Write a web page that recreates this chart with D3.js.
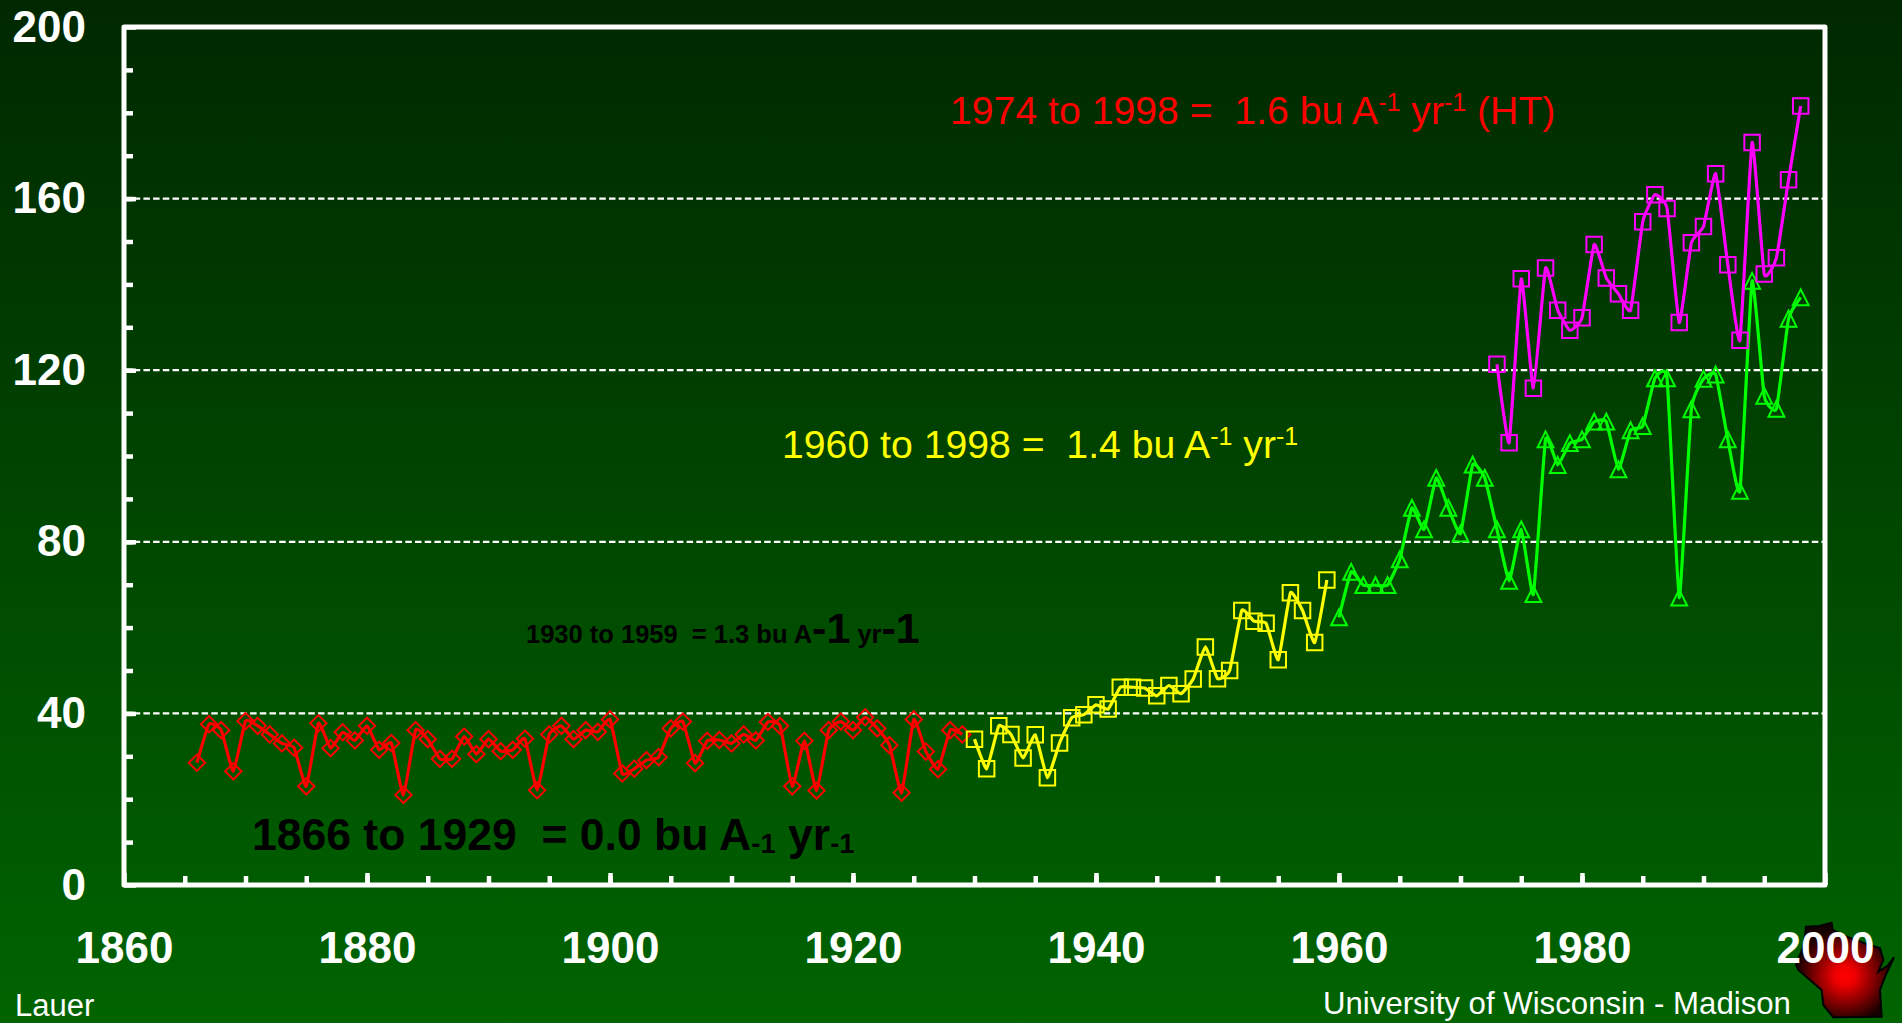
<!DOCTYPE html>
<html>
<head>
<meta charset="utf-8">
<title>Wisconsin corn yield</title>
<script src="https://cdn.jsdelivr.net/npm/d3@7"></script>
<style>
	html, body { margin: 0; padding: 0; background: #006400; overflow: hidden; }
	svg { display: block; }
	text { font-family: "Liberation Sans", Arial, sans-serif; white-space: pre; }
</style>
</head>
<body>
<script>
// years and yields (bu/A)
var redYears = d3.range(1866, 1930);
var redValues = [28.5, 37.5, 36.1, 26.5, 38.2, 37.1, 35.1, 33.0, 32.0, 23.0,
	37.7, 31.9, 35.6, 33.7, 37.1, 31.5, 33.1, 21.0, 36.1, 34.0,
	29.4, 29.4, 34.6, 30.5, 34.0, 31.2, 31.5, 34.1, 22.1, 35.1,
	37.1, 34.0, 36.1, 35.7, 38.6, 26.0, 27.1, 29.1, 29.8, 36.5,
	38.1, 28.4, 33.6, 33.8, 33.0, 35.1, 33.7, 38.0, 37.1, 23.0,
	33.6, 22.0, 36.1, 38.1, 36.1, 39.1, 36.5, 32.6, 21.5, 38.6,
	31.1, 27.0, 36.1, 35.1];

var yellowYears = d3.range(1930, 1960);
var yellowValues = [34.0, 27.1, 37.1, 35.1, 29.6, 35.0, 25.0, 33.1, 39.0, 39.7,
	42.0, 41.0, 46.1, 46.1, 45.9, 44.1, 46.5, 44.6, 48.0, 55.5,
	48.1, 50.0, 64.0, 61.5, 61.0, 52.5, 68.1, 64.0, 56.5, 71.1];

var greenYears = d3.range(1960, 1999);
var greenValues = [62.4, 73.0, 69.9, 69.9, 69.9, 75.9, 87.9, 82.9, 94.9, 87.9,
	81.9, 98.0, 94.9, 82.9, 70.9, 82.9, 67.8, 103.9, 97.9, 103.0,
	103.9, 108.0, 108.0, 96.9, 106.0, 107.0, 118.1, 118.1, 67.0, 110.9,
	118.0, 119.0, 103.9, 91.9, 140.8, 114.0, 111.0, 132.0, 137.0];

var magentaYears = d3.range(1973, 1999);
var magentaValues = [121.4, 103.1, 141.3, 115.8, 143.8, 134.0, 129.3, 132.2, 149.3, 141.5,
	137.8, 134.0, 154.6, 160.9, 157.7, 131.1, 149.7, 153.5, 165.8, 144.6,
	127.0, 173.1, 142.4, 146.2, 164.4, 181.6];

var xMajor = [1860, 1880, 1900, 1920, 1940, 1960, 1980, 2000];
var xMinor = d3.range(1865, 2000, 5);
var yMajor = [0, 40, 80, 120, 160, 200];
var yMinor = d3.range(10, 200, 10);
var gridValues = [40, 80, 120, 160];

var w = 1902;
var h = 1023;

var x = d3.scaleLinear().domain([1860, 2000]).range([124, 1825]);
var y = d3.scaleLinear().domain([0, 200]).range([885, 27]);

var svg = d3.select("body")
			.append("svg")
			.attr("width", w)
			.attr("height", h);

var defs = svg.append("defs");

var bg = defs.append("linearGradient")
	.attr("id", "bg")
	.attr("x1", 0).attr("y1", 0)
	.attr("x2", 0).attr("y2", 1);
bg.append("stop").attr("offset", "0%").attr("stop-color", "#002800");
bg.append("stop").attr("offset", "100%").attr("stop-color", "#006400");

var wi = defs.append("radialGradient")
	.attr("id", "wi")
	.attr("cx", "50%").attr("cy", "56%").attr("r", "50%");
wi.append("stop").attr("offset", "0%").attr("stop-color", "#ff0000");
wi.append("stop").attr("offset", "20%").attr("stop-color", "#f00000");
wi.append("stop").attr("offset", "100%").attr("stop-color", "#140000");

svg.append("rect")
	.attr("width", w)
	.attr("height", h)
	.attr("fill", "url(#bg)");

// Wisconsin logo sits under the 2000 label
var wiOutline = [[768,140],[808,138],[845,128],[848,150],[890,170],[945,190],[990,205],[1000,240],
	[985,275],[1012,258],[1032,232],[1005,290],[990,330],[995,410],[850,412],[820,375],[815,330],
	[745,270],[738,255],[760,200],[765,165]];
svg.append("path")
	.attr("d", d3.line().x(function (d) { return 1550 + d[0] / 3; }).y(function (d) { return 880 + d[1] / 3; })
		.curve(d3.curveLinearClosed)(wiOutline))
	.attr("fill", "url(#wi)")
	.attr("stroke", "#000")
	.attr("stroke-width", 2);

// grid
svg.selectAll(".grid")
	.data(gridValues)
	.enter()
	.append("line")
	.attr("class", "grid")
	.attr("x1", x(1860)).attr("x2", x(2000))
	.attr("y1", function (d) { return y(d); })
	.attr("y2", function (d) { return y(d); })
	.attr("stroke", "#fff")
	.attr("stroke-width", 2.2)
	.attr("stroke-dasharray", "6.5 3.2");

// ticks point inward
function styleAxis(g) {
	g.select(".domain").remove();
	g.selectAll("line").attr("stroke", "#fff").attr("stroke-width", 4.5);
	g.selectAll("text")
		.attr("fill", "#fff")
		.attr("font-size", 44)
		.attr("font-weight", "bold")
		.style("font-family", "'Liberation Sans', Arial, sans-serif");
}

svg.append("g")
	.attr("transform", "translate(0,885)")
	.call(d3.axisBottom(x).tickValues(xMinor).tickSize(-9).tickFormat(""))
	.call(styleAxis);
svg.append("g")
	.attr("transform", "translate(0,885)")
	.call(d3.axisBottom(x).tickValues(xMajor).tickSize(-12).tickPadding(47).tickFormat(d3.format("d")))
	.call(styleAxis);
svg.append("g")
	.attr("transform", "translate(124,0)")
	.call(d3.axisLeft(y).tickValues(yMinor).tickSize(-9).tickFormat(""))
	.call(styleAxis);
svg.append("g")
	.attr("transform", "translate(124,0)")
	.call(d3.axisLeft(y).tickValues(yMajor).tickSize(-12).tickPadding(38))
	.call(styleAxis);

svg.append("rect")
	.attr("x", x(1860)).attr("y", y(200))
	.attr("width", x(2000) - x(1860))
	.attr("height", y(0) - y(200))
	.attr("fill", "none")
	.attr("stroke", "#fff")
	.attr("stroke-width", 5)
	.attr("stroke-linejoin", "round");

// triangle centred on mid height, not on the centroid
var triMark = {
	draw: function (ctx, size) {
		var a = Math.sqrt(size);
		ctx.moveTo(0, -a / 2);
		ctx.lineTo(a / 2, a / 2);
		ctx.lineTo(-a / 2, a / 2);
		ctx.closePath();
	}
};

var line = d3.line()
	.x(function (d) { return x(d[0]); })
	.y(function (d) { return y(d[1]); })
	.curve(d3.curveCardinal.tension(0.6));

function drawSeries(years, values, color, symbol, size) {
	var pts = d3.zip(years, values);
	svg.append("path")
		.attr("d", line(pts))
		.attr("fill", "none")
		.attr("stroke", color)
		.attr("stroke-width", 3.2);
	svg.append("g").selectAll("path")
		.data(pts)
		.enter()
		.append("path")
		.attr("d", d3.symbol().type(symbol).size(size))
		.attr("transform", function (d) { return "translate(" + x(d[0]) + "," + y(d[1]) + ")"; })
		.attr("fill", "none")
		.attr("stroke", color)
		.attr("stroke-width", 2);
}

drawSeries(redYears, redValues, "#ff0000", d3.symbolDiamond2, 170);
drawSeries(yellowYears, yellowValues, "#ffff00", d3.symbolSquare, 240);
drawSeries(greenYears, greenValues, "#00ff00", triMark, 250);
drawSeries(magentaYears, magentaValues, "#ff00ff", d3.symbolSquare, 240);

// parts: [string, font size, baseline shift]
function label(px, py, color, weight, parts) {
	var t = svg.append("text")
		.attr("x", px)
		.attr("y", py)
		.attr("fill", color)
		.attr("font-weight", weight);
	var shift = 0;
	parts.forEach(function (p) {
		var dy = (p[2] || 0) - shift;
		shift = p[2] || 0;
		t.append("tspan").attr("dy", dy).attr("font-size", p[1]).text(p[0]);
	});
}

label(950, 124, "#ff0000", "normal", [["1974 to 1998 =  1.6 bu A", 39.2], ["-1", 25, -13], [" yr", 39.2], ["-1", 25, -13], [" (HT)", 39.2]]);
label(782, 458, "#ffff00", "normal", [["1960 to 1998 =  1.4 bu A", 39.2], ["-1", 25, -13], [" yr", 39.2], ["-1", 25, -13]]);
label(526, 643, "#000", "bold", [["1930 to 1959  = 1.3 bu A", 25.5], ["-1", 43], [" yr", 25.5], ["-1", 43]]);
label(252, 850, "#000", "bold", [["1866 to 1929  = 0.0 bu A", 44.5], ["-1", 27.5, 3], [" yr", 44.5], ["-1", 27.5, 3]]);
label(15, 1016, "#fff", "normal", [["Lauer", 31]]);
label(1323, 1014, "#fff", "normal", [["University of Wisconsin - Madison", 31.2]]);
</script>
</body>
</html>
